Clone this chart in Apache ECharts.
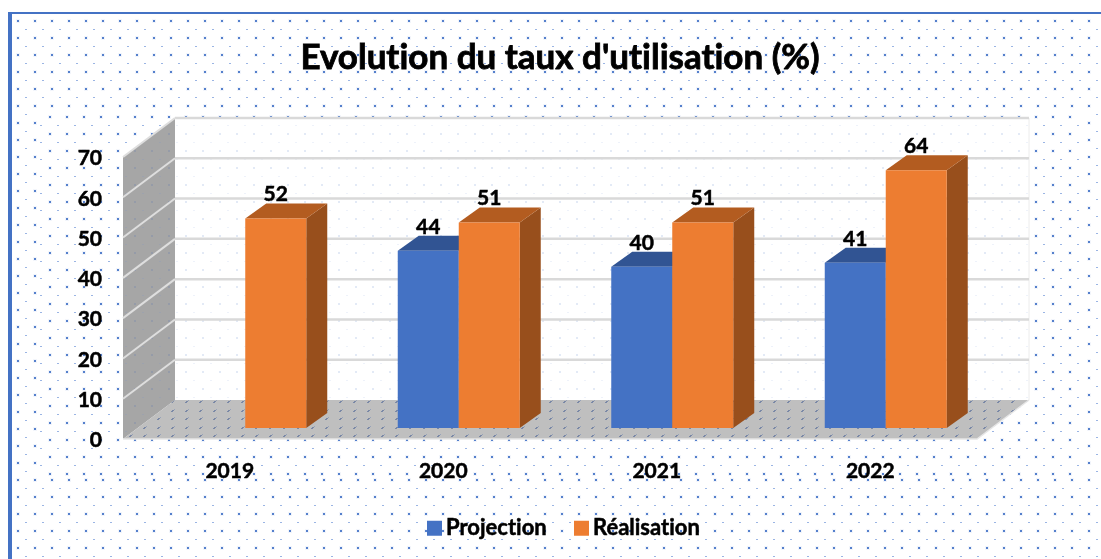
<!DOCTYPE html>
<html><head><meta charset="utf-8">
<style>html,body{margin:0;padding:0;background:#fff}#c{width:1101px;height:559px}</style>
<script src="https://cdn.jsdelivr.net/npm/echarts@6/dist/echarts.min.js"></script>
</head><body><div id="c"></div>
<script>
const chartTitle = "Evolution du taux d'utilisation (%)";
const categories = ['2019', '2020', '2021', '2022'];
const seriesNames = ['Projection', 'Réalisation'];
const projection = [null, 44, 40, 41];
const realisation = [52, 51, 51, 64];
const yTicks = [0, 10, 20, 30, 40, 50, 60, 70];

const FONT = 'Lato, "Open Sans", sans-serif';
const WALL = { x: 52, y: -39 };
const BAR_FRONT = { x: 15.5, y: -11 };
const BAR_DEPTH = { x: 21, y: -15 };
const COLORS = {
  Projection: { front: '#4472c4', top: '#315493', side: '#2f5597' },
  'Réalisation': { front: '#ed7d31', top: '#b35c20', side: '#984f1c' }
};

// Draw text without the "ti" ligature of the fallback font.
const origGetContext = HTMLCanvasElement.prototype.getContext;
HTMLCanvasElement.prototype.getContext = function () {
  const ctx = origGetContext.apply(this, arguments);
  if (ctx && 'textRendering' in ctx) ctx.textRendering = 'optimizeSpeed';
  return ctx;
};

function tile(w, h, draw) {
  const c = document.createElement('canvas');
  c.width = w; c.height = h;
  draw(c.getContext('2d'));
  return { image: c, repeat: 'repeat' };
}
function dots(px, py, big, small, halo) {
  return tile(17, 17, g => {
    for (const ox of [-17, 0, 17]) for (const oy of [-17, 0, 17]) {
      if (halo) { g.fillStyle = halo; g.fillRect(px + ox - 2, py + oy - 2, 4, 4); }
      g.fillStyle = big;
      g.fillRect(px + ox - 1, py + oy - 1, 2, 2);
      g.fillStyle = small;
      g.fillRect(px + 8 + ox - 1, py + 8.5 + oy - .5, 2, 1);
    }
  });
}
const patBase = dots(1, 4, '#5580cc', '#9bb5e4', 'rgba(68,114,196,0.07)');
const patMid = dots(16, 15, '#5580cc', '#9bb5e4', 'rgba(68,114,196,0.07)');
const patBack = dots(16, 15, '#e3eaf6', '#eef2fa');
const patSide = dots(16, 15, '#959ba8', '#9da2ad');
const patFloor = tile(28, 17, g => {
  const blob = (x, y) => {
    g.fillStyle = '#7a88a6';
    g.fillRect(x, y, 2, 1); g.fillRect(x - 1, y + 1, 2, 1);
    g.fillStyle = '#97a3ba';
    g.fillRect(x + 2, y - 1, 1, 1);
  };
  for (const y of [2, 10]) for (const x of [4, 18]) blob(x, y);
});

function frame(api) {
  const o = api.coord([0, 0]);
  const band = api.size([1, 0])[0];
  const left = o[0] - band / 2;
  return { left, right: left + band * categories.length, y0: o[1], y70: api.coord([0, 70])[1] };
}
function poly(points, fill, extra) {
  return { type: 'polygon', shape: { points }, style: Object.assign({ fill }, extra || {}), silent: true };
}
function renderScene(params, api) {
  const f = frame(api);
  const bl = f.left + WALL.x, br = f.right + WALL.x;
  const by0 = f.y0 + WALL.y, byT = f.y70 + WALL.y;
  const side = [[f.left, f.y0], [bl, by0], [bl, byT], [f.left, f.y70]];
  const floor = [[f.left, f.y0], [f.right, f.y0], [br, by0], [bl, by0]];
  const back = [[bl, byT], [br, byT], [br, by0], [bl, by0]];
  return { type: 'group', children: [
    poly(back, '#ffffff'), poly(back, patBack),
    poly(side, '#a6a6a6'), poly(side, patSide),
    poly(floor, '#bfbfbf'), poly(floor, patFloor),
    { type: 'polyline', shape: { points: [[f.left, f.y0], [f.right, f.y0], [br, by0]] }, style: { fill: 'none', stroke: '#e6e6e6', lineWidth: 1.5 } },
    { type: 'line', shape: { x1: br, y1: byT, x2: br, y2: by0 }, style: { stroke: '#ececec', lineWidth: 1 } }
  ] };
}
function renderGrid(params, api) {
  const f = frame(api);
  const y = api.coord([0, api.value(1)])[1];
  const bl = f.left + WALL.x, br = f.right + WALL.x, by = y + WALL.y;
  return { type: 'group', children: [
    { type: 'line', shape: { x1: bl, y1: by, x2: br, y2: by }, style: { stroke: '#d9d9d9', lineWidth: 2.5 } },
    { type: 'line', shape: { x1: f.left, y1: y, x2: bl, y2: by }, style: { stroke: '#dedede', lineWidth: 2 } }
  ] };
}
function renderBar(name, sideSign) {
  return function (params, api) {
    const v = api.value(1);
    if (v == null || isNaN(v)) return;
    const c = COLORS[name];
    const center = api.coord([api.value(0), 0]);
    const w = api.size([1, 0])[0] * 61 / 213.5;
    const topPt = api.coord([api.value(0), v]);
    const x0 = center[0] + BAR_FRONT.x + (sideSign < 0 ? -w : 0);
    const x1 = x0 + w;
    const yb = center[1] + BAR_FRONT.y, yt = topPt[1] + BAR_FRONT.y;
    const dx = BAR_DEPTH.x, dy = BAR_DEPTH.y;
    return { type: 'group', children: [
      poly([[x1, yb], [x1 + dx, yb + dy], [x1 + dx, yt + dy], [x1, yt]], c.side),
      poly([[x0, yt], [x1, yt], [x1 + dx, yt + dy], [x0 + dx, yt + dy]], c.top),
      { type: 'rect', shape: { x: x0, y: yt, width: w, height: yb - yt }, style: { fill: c.front } },
      { type: 'text', x: (x0 + x1) / 2, y: yt - 24, style: { text: String(v), fill: '#000', font: 'bold 21px ' + FONT, align: 'center', verticalAlign: 'middle', stroke: '#000', lineWidth: .5 } }
    ] };
  };
}
const pairs = arr => arr.map((v, i) => [i, v]);
const heavy = { textBorderColor: '#000', textBorderWidth: .5 };

const chart = echarts.init(document.getElementById('c'), null, { renderer: 'canvas' });
chart.setOption({
  animation: false,
  backgroundColor: '#fff',
  title: { text: chartTitle, left: 555, top: 35, textAlign: 'center', textStyle: Object.assign({ fontFamily: FONT, fontWeight: 'bold', fontSize: 35, color: '#000' }, { textBorderColor: '#000', textBorderWidth: .8 }) },
  legend: {
    data: seriesNames, left: 422, top: 512, icon: 'rect', itemWidth: 15, itemHeight: 15, itemGap: 27,
    textStyle: Object.assign({ fontFamily: FONT, fontWeight: 'bold', fontSize: 22, color: '#000', padding: [0, 0, 0, -1] }, heavy)
  },
  graphic: { elements: [
    { type: 'rect', z: -10, silent: true, shape: { x: 12, y: 14, width: 1089, height: 545 }, style: { fill: patBase } },
    { type: 'rect', z: -9, silent: true, shape: { x: 40, y: 111, width: 1043, height: 367 }, style: { fill: '#fff' } },
    { type: 'rect', z: -8, silent: true, shape: { x: 40, y: 111, width: 1043, height: 367 }, style: { fill: patMid } },
    { type: 'rect', z: -7, silent: true, shape: { x: 8, y: 12, width: 4, height: 547 }, style: { fill: '#4472c4' } },
    { type: 'rect', z: -7, silent: true, shape: { x: 8, y: 12, width: 1093, height: 2 }, style: { fill: '#4472c4' } }
  ] },
  grid: { left: 123, right: 124, top: 157, bottom: 120 },
  xAxis: { type: 'category', data: categories, axisLine: { show: false }, axisTick: { show: false }, splitLine: { show: false },
    axisLabel: Object.assign({ margin: 22, color: '#000', fontFamily: FONT, fontWeight: 'bold', fontSize: 21 }, heavy) },
  yAxis: { type: 'value', min: 0, max: 70, interval: 10, axisLine: { show: false }, axisTick: { show: false }, splitLine: { show: false },
    axisLabel: Object.assign({ margin: 21, color: '#000', fontFamily: FONT, fontWeight: 'bold', fontSize: 21, verticalAlign: 'top', padding: [-9, 0, 0, 0] }, heavy) },
  series: [
    { type: 'custom', name: 'scene', z: 1, silent: true, data: [[0, 0]], renderItem: renderScene },
    { type: 'custom', name: 'grid', z: 2, silent: true, data: pairs(yTicks.slice(1)).map(p => [0, p[1]]), renderItem: renderGrid },
    { type: 'custom', name: seriesNames[0], z: 3, silent: true, itemStyle: { color: COLORS.Projection.front }, data: pairs(projection), renderItem: renderBar(seriesNames[0], -1) },
    { type: 'custom', name: seriesNames[1], z: 4, silent: true, itemStyle: { color: COLORS['Réalisation'].front }, data: pairs(realisation), renderItem: renderBar(seriesNames[1], 1) }
  ]
});
</script></body></html>
